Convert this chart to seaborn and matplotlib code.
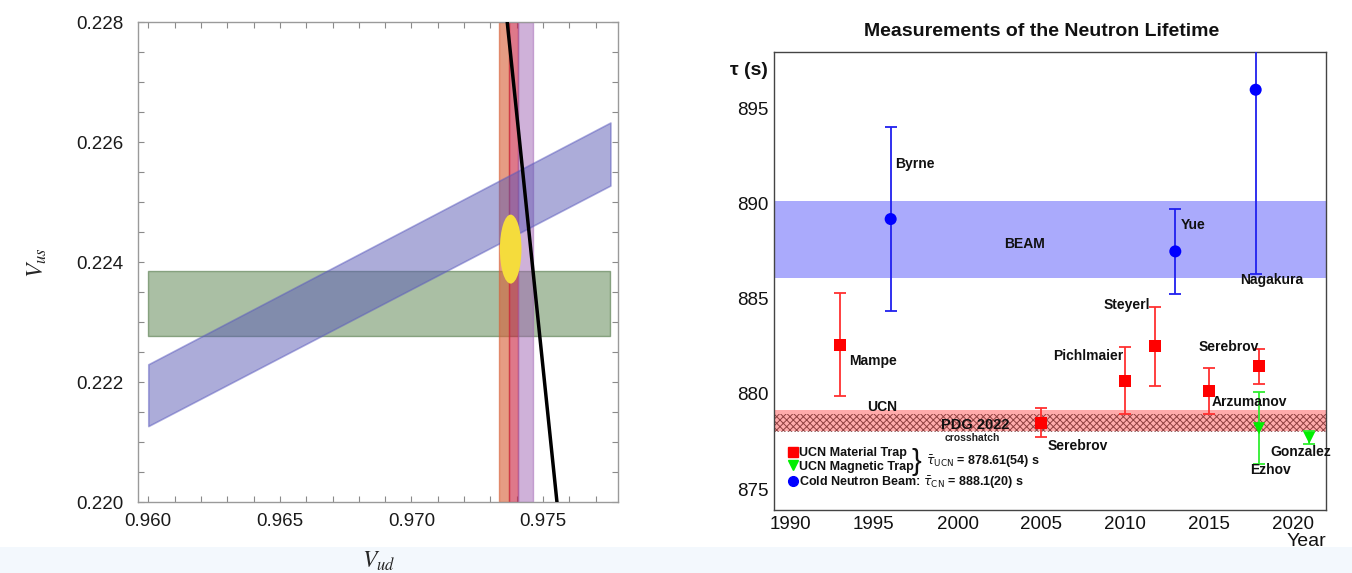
import numpy as np
import pandas as pd
import seaborn as sns
import matplotlib.pyplot as plt
from matplotlib.patches import Ellipse, Rectangle
from matplotlib.lines import Line2D
from matplotlib.ticker import MultipleLocator, FormatStrFormatter

# ---- left panel: Vud / Vus constraints ----
green_vud = [0.9600, 0.97756]
green_vus = [0.22278, 0.22385]
slope_vud = [0.9600, 0.97756]
slope_vus_lo = [0.22127, 0.22528]
slope_vus_hi = [0.22230, 0.22633]
vud_band_lo = [0.97333, 0.97371, 0.97405]
vud_band_hi = [0.97371, 0.97405, 0.97463]
unitarity_vud = [0.97364, 0.97553]
unitarity_vus = [0.228, 0.220]
fit_center = (0.97377, 0.22422)
fit_width = 0.00082
fit_height = 0.00115

# ---- right panel: neutron lifetime measurements ----
ucn_names = ["Mampe", "Serebrov", "Pichlmaier", "Steyerl", "Arzumanov", "Serebrov"]
ucn_year = [1993, 2005, 2010, 2011.8, 2015, 2018]
ucn_tau = [882.6, 878.5, 880.7, 882.5, 880.15, 881.45]
ucn_err = [2.7, 0.75, 1.75, 2.1, 1.2, 0.92]

mag_names = ["Ezhov", "Gonzalez"]
mag_year = [2018, 2021]
mag_tau = [878.2, 877.7]
mag_err = [1.9, 0.35]

beam_names = ["Byrne", "Yue", "Nagakura"]
beam_year = [1996, 2013, 2017.8]
beam_tau = [889.2, 887.5, 896.0]
beam_err = [4.85, 2.25, 9.7]

beam_band = [886.1, 890.15]
ucn_band = [878.07, 879.16]
pdg_band = [877.98, 878.93]

df = pd.DataFrame({
    "year": ucn_year + mag_year + beam_year,
    "tau": ucn_tau + mag_tau + beam_tau,
    "err": ucn_err + mag_err + beam_err,
    "kind": ["ucn"] * len(ucn_year) + ["mag"] * len(mag_year) + ["beam"] * len(beam_year),
})

sns.set_theme(style="white")
plt.rcParams['font.family'] = ['Liberation Sans', 'DejaVu Sans']
plt.rcParams['hatch.linewidth'] = 0.7

fig = plt.figure(figsize=(13.52, 5.73), dpi=100)
fig.patch.set_facecolor("white")

# faint slide decoration along the bottom
fig.patches.append(Rectangle((0.0, 0.0), 1.0, 0.045, transform=fig.transFigure,
                             facecolor="#f3f8fd", edgecolor="none", zorder=-5))

# ================= left panel =================
ax1 = fig.add_axes([138.3 / 1352, (573 - 502.3) / 573, 480 / 1352, 480 / 573])

ax1.fill_between(green_vud, green_vus[0], green_vus[1], facecolor=(100/255, 140/255, 90/255),
                 alpha=0.55, edgecolor=(70/255, 110/255, 60/255), linewidth=1.0, zorder=1)

band_colors = [(215/255, 95/255, 55/255), (200/255, 30/255, 60/255), (160/255, 100/255, 180/255)]
band_alpha = [0.62, 0.6, 0.5]
for lo, hi, c, a in zip(vud_band_lo, vud_band_hi, band_colors, band_alpha):
    ax1.axvspan(lo, hi, facecolor=c, alpha=a, edgecolor=c, linewidth=1.0, zorder=2)

ax1.fill_between(slope_vud, slope_vus_lo, slope_vus_hi, facecolor=(90/255, 90/255, 180/255),
                 alpha=0.5, edgecolor=(90/255, 90/255, 190/255), linewidth=1.2, zorder=3)

ax1.add_patch(Ellipse(fit_center, fit_width, fit_height, facecolor="#f5dc3c",
                      edgecolor="none", zorder=4))
sns.lineplot(x=unitarity_vud, y=unitarity_vus, color="black", linewidth=2.5, ax=ax1,
             sort=False, zorder=5)

ax1.set_xlim(0.95962, 0.97786)
ax1.set_ylim(0.220, 0.228)
ax1.xaxis.set_major_locator(MultipleLocator(0.005))
ax1.xaxis.set_minor_locator(MultipleLocator(0.001))
ax1.yaxis.set_major_locator(MultipleLocator(0.002))
ax1.yaxis.set_minor_locator(MultipleLocator(0.0005))
ax1.xaxis.set_major_formatter(FormatStrFormatter("%.3f"))
ax1.yaxis.set_major_formatter(FormatStrFormatter("%.3f"))
ax1.tick_params(which="both", direction="in", top=True, right=True, bottom=True, left=True,
                length=4, width=0.8, color="#8a8a8a", labelsize=13.5, labelcolor="#1a1a1a")
ax1.tick_params(axis="y", pad=11)
ax1.tick_params(axis="x", pad=8)
for s in ax1.spines.values():
    s.set_color("#9a9a9a")
    s.set_linewidth(1.0)

ax1.set_xlabel("$V_{ud}$", fontsize=17, math_fontfamily="stix", va="center", ha="center")
ax1.set_ylabel("$V_{us}$", fontsize=17, math_fontfamily="stix", va="center", ha="center")
ax1.xaxis.set_label_coords(0.5, -0.124)
ax1.yaxis.set_label_coords(-0.211, 0.5)

# ================= right panel =================
ax2 = fig.add_axes([774.3 / 1352, (573 - 510) / 573, 551.7 / 1352, 458.3 / 573])
ax2.set_xlim(1989.05, 2022.0)
ax2.set_ylim(873.9, 898.0)

ax2.axhspan(beam_band[0], beam_band[1], facecolor="#aaaafc", edgecolor="none", zorder=1)
ax2.axhspan(ucn_band[0], ucn_band[1], facecolor="#ff9c9c", alpha=0.85, edgecolor="none", zorder=1)
ax2.fill_between([1989.05, 2022.0], pdg_band[0], pdg_band[1], facecolor="none",
                 edgecolor=(0.45, 0.15, 0.15, 0.8), hatch="xxxxx", linewidth=0, zorder=2)

colors = {"ucn": "#ff0000", "mag": "#00ee00", "beam": "#0000ff"}
err_colors = {"ucn": "#ff3030", "mag": "#30ee30", "beam": "#2020ee"}
markers = {"ucn": "s", "mag": "v", "beam": "o"}

for kind, sub in df.groupby("kind"):
    ax2.errorbar(sub["year"], sub["tau"], yerr=sub["err"], fmt="none",
                 ecolor=err_colors[kind], elinewidth=1.3, capsize=4, capthick=1.3, zorder=3)

sns.scatterplot(data=df, x="year", y="tau", hue="kind", style="kind", palette=colors,
                markers=markers, s=75, edgecolor="none", linewidth=0, legend=False,
                ax=ax2, zorder=4)

# labels next to the points
label_fs = 10
point_labels = [
    ("Mampe", 1993.5, 881.75), ("Byrne", 1996.25, 892.1), ("BEAM", 2002.8, 887.9),
    ("Yue", 2013.3, 888.9), ("Nagakura", 2016.85, 885.97), ("Steyerl", 2008.7, 884.7),
    ("Pichlmaier", 2005.7, 882.0), ("Serebrov", 2014.4, 882.47), ("Arzumanov", 2015.15, 879.58),
    ("UCN", 1994.6, 879.31), ("Serebrov", 2005.38, 877.29), ("Gonzalez", 2018.7, 876.93),
    ("Ezhov", 2017.45, 876.0),
]
for txt, x, y in point_labels:
    ax2.text(x, y, txt, fontsize=label_fs, fontweight="bold", ha="left", va="center",
             color="#111111", zorder=6)
ax2.text(1999.0, 878.36, "PDG 2022", fontsize=10.5, fontweight="bold", ha="left",
         va="center", color="#111111", zorder=6)
ax2.text(1999.2, 877.66, "crosshatch", fontsize=7.5, fontweight="bold", ha="left",
         va="center", color="#222222", zorder=6)

# legend block
handles = [
    Line2D([], [], marker="s", color=colors["ucn"], linestyle="none", markersize=7),
    Line2D([], [], marker="v", color=colors["mag"], linestyle="none", markersize=7),
    Line2D([], [], marker="o", color=colors["beam"], linestyle="none", markersize=7),
]
labels = ["UCN Material Trap", "UCN Magnetic Trap",
          r"Cold Neutron Beam: $\bar{\tau}_{\mathrm{CN}}$ = 888.1(20) s"]
leg = ax2.legend(handles, labels, loc="upper left", bbox_to_anchor=(1989.95, 877.2),
                 bbox_transform=ax2.transData, frameon=False, borderpad=0, borderaxespad=0,
                 handlelength=0.6, handletextpad=0.15, labelspacing=0.12,
                 prop={"weight": "bold", "size": 9})
for t in leg.get_texts():
    t.set_color("#111111")
ax2.text(1997.25, 876.45, "}", fontsize=21, ha="left", va="center", color="#111111")
ax2.text(1998.1, 876.45, r"$\bar{\tau}_{\mathrm{UCN}}$ = 878.61(54) s", fontsize=9,
         fontweight="bold", ha="left", va="center", color="#111111")

ax2.xaxis.set_major_locator(MultipleLocator(5))
ax2.xaxis.set_minor_locator(MultipleLocator(1))
ax2.yaxis.set_major_locator(MultipleLocator(5))
ax2.yaxis.set_minor_locator(MultipleLocator(1))
ax2.tick_params(which="major", direction="in", length=12, width=1.0, color="#333333",
                labelsize=13.5, labelcolor="#111111", top=False, right=False)
ax2.tick_params(which="minor", direction="in", length=6, width=1.0, color="#333333",
                top=False, right=False)
ax2.tick_params(axis="both", pad=4)
for s in ax2.spines.values():
    s.set_color("#444444")
    s.set_linewidth(1.0)
ax2.set_xlabel("")
ax2.set_ylabel("")

ax2.text(-0.011, 897.0, "τ (s)", transform=ax2.get_yaxis_transform(), fontsize=14,
         fontweight="bold", ha="right", va="center", color="#111111")
ax2.text(1.0, -0.069, "Year", transform=ax2.transAxes, fontsize=14, ha="right",
         va="center", color="#111111")
fig.text(1042 / 1352, 1 - 32 / 573, "Measurements of the Neutron Lifetime", fontsize=14,
         fontweight="bold", ha="center", va="center", color="#111111")

fig.savefig("out.png", dpi=100)
